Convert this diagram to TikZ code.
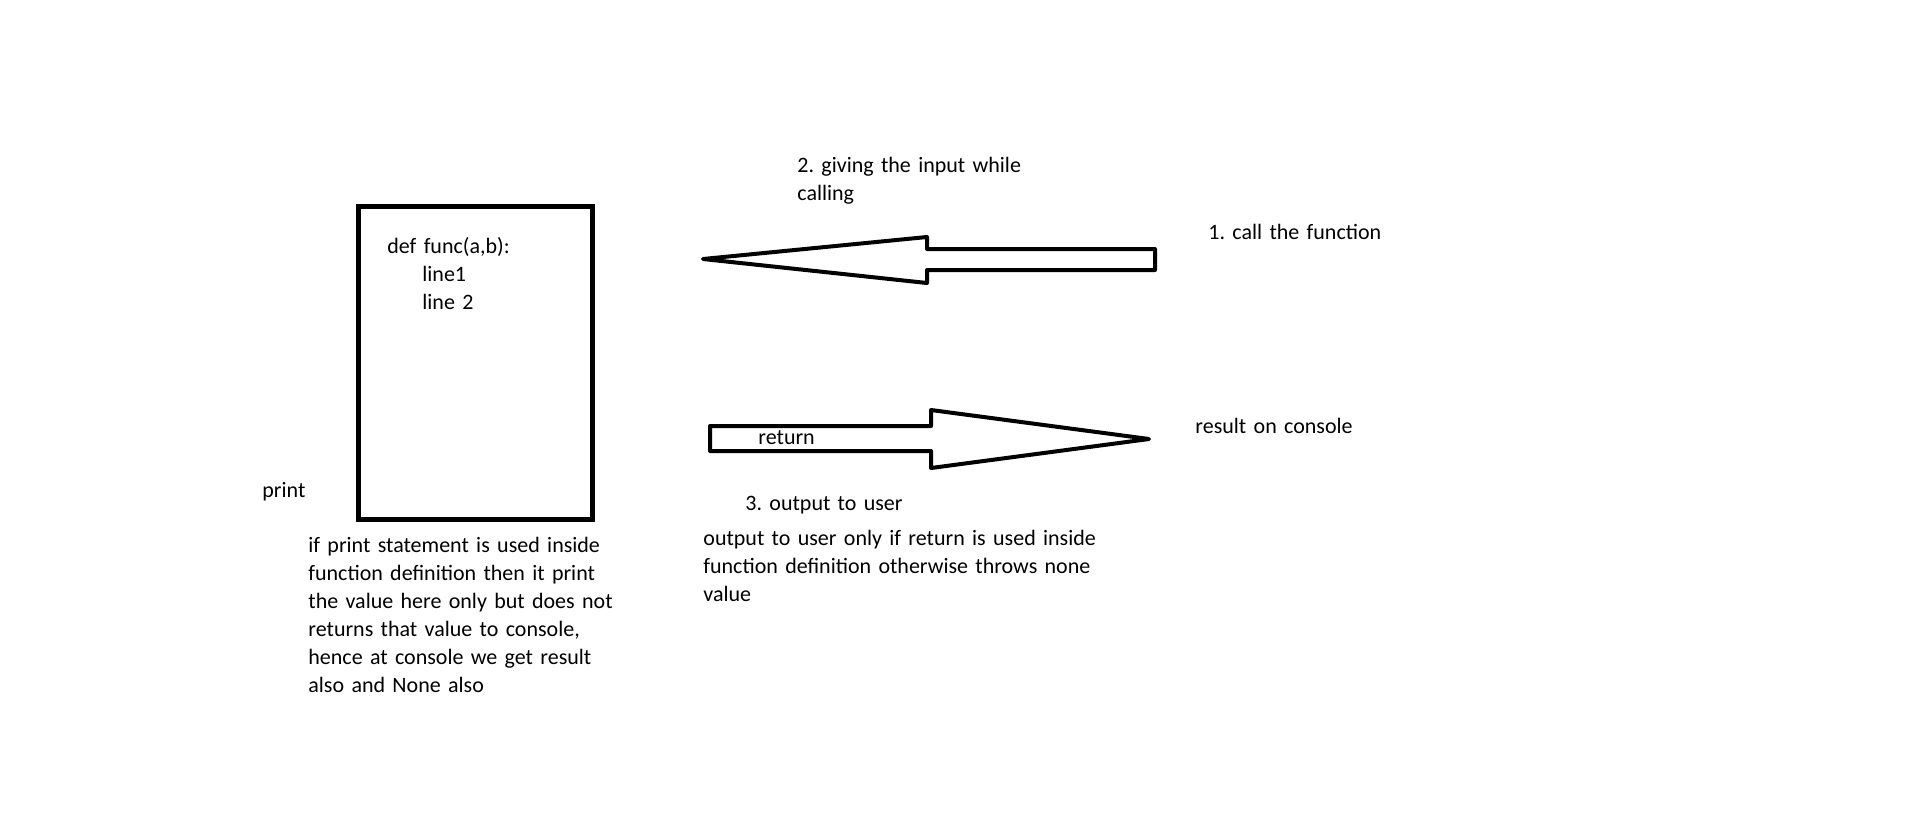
\documentclass[tikz,border=0pt]{standalone}
\usepackage{fontspec}
\setmainfont{Carlito}
\usepackage{xcolor}

\begin{document}
\frenchspacing
\begin{tikzpicture}[x=0.5pt,y=-0.5pt,
	txt/.style={draw=none,inner sep=0pt,anchor=base west,text width=300pt,align=left,
		font=\fontsize{11}{14}\selectfont\frenchspacing},
	fatline/.style={line width=2pt,line join=round}]
	\useasboundingbox (0,0) rectangle (1914,821);

	\node (box)[draw,line width=2.5pt,minimum width=117pt,minimum height=156.5pt,inner sep=0pt] at (475.5,362.75) {};
	\node (code)[txt] at (387,253) {def func(a,b):\\\hspace*{17.5pt}line1\\\hspace*{17.5pt}line 2};

	\node (give)[txt] at (797,172) {2. giving the input while\\calling};
	\node (call)[txt] at (1208,239) {1. call the function};
	\node (result)[txt] at (1195,433) {result on console};
	\node (ret)[txt] at (758,444) {return};
	\node (out)[txt] at (745,510) {3. output to user};
	\node (print)[txt] at (262,497) {print};

	\node (printnote)[txt] at (308,552) {if print statement is used inside\\function definition then it print\\the value here only but does not\\returns that value to console,\\hence at console we get result\\also and None also};
	\node (outnote)[txt] at (703,545) {output to user only if return is used inside\\function definition otherwise throws none\\value};

	\draw[fatline]
	(1155,249) -- (927,249) -- (927,237) -- (703,259) -- (927,283) -- (927,270) -- (1155,270) -- cycle;
	\draw[fatline]
	(710,426) -- (931,426) -- (931,410) -- (1149,439) -- (931,468) -- (931,451) -- (710,451) -- cycle;

\end{tikzpicture}
\end{document}
